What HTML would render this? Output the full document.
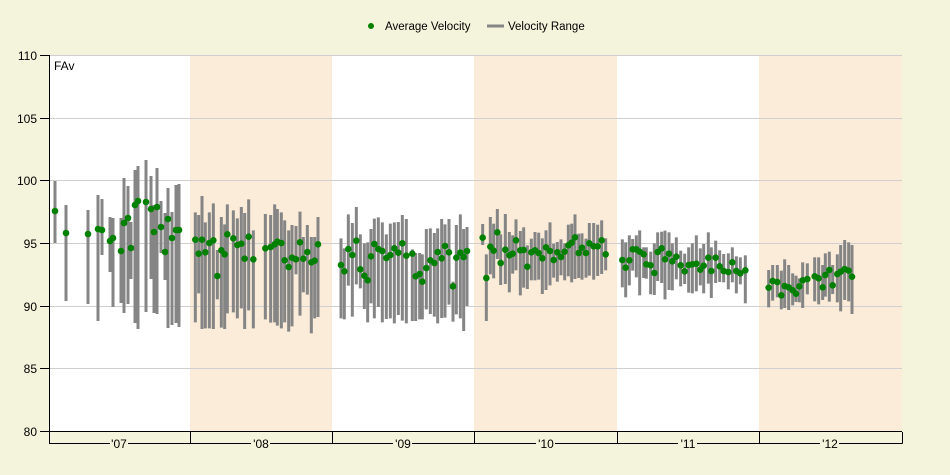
<!DOCTYPE html>
<html><head><meta charset="utf-8"><style>
body{margin:0;background:#f4f4dc;}
svg{display:block;font-family:"Liberation Sans",sans-serif;}
</style></head><body>
<svg id="s" width="950" height="475" xmlns="http://www.w3.org/2000/svg">
<rect width="950" height="475" fill="#f4f4dc"/>
<g id="bands">
<rect x="49" y="55" width="141" height="376" fill="#fff"/>
<rect x="190" y="55" width="142" height="376" fill="#faecd8"/>
<rect x="332" y="55" width="142" height="376" fill="#fff"/>
<rect x="474" y="55" width="143" height="376" fill="#faecd8"/>
<rect x="617" y="55" width="142" height="376" fill="#fff"/>
<rect x="759" y="55" width="143" height="376" fill="#faecd8"/>
</g>
<g stroke="#cfcfcf" stroke-width="1">
<line x1="49" x2="902" y1="55.5" y2="55.5"/>
<line x1="49" x2="902" y1="118.5" y2="118.5"/>
<line x1="49" x2="902" y1="180.5" y2="180.5"/>
<line x1="49" x2="902" y1="243.5" y2="243.5"/>
<line x1="49" x2="902" y1="306.5" y2="306.5"/>
<line x1="49" x2="902" y1="368.5" y2="368.5"/>
</g>
<g id="bars" stroke="#858585" stroke-width="3"></g>
<g id="dots" fill="#008000"></g>
<g stroke="#000" stroke-width="1" fill="none">
<line x1="49.5" x2="49.5" y1="55" y2="431"/>
<line x1="49" x2="902" y1="431.5" y2="431.5"/>
<line x1="40" x2="49" y1="55.5" y2="55.5"/>
<line x1="40" x2="49" y1="118.5" y2="118.5"/>
<line x1="40" x2="49" y1="180.5" y2="180.5"/>
<line x1="40" x2="49" y1="243.5" y2="243.5"/>
<line x1="40" x2="49" y1="306.5" y2="306.5"/>
<line x1="40" x2="49" y1="368.5" y2="368.5"/>
<line x1="40" x2="49" y1="431.5" y2="431.5"/>
<path d="M49.5 432V443.5H110M128 443.5H190.5M190.5 432V443.5H251M270 443.5H332.5M332.5 432V443.5H393M412 443.5H474.5M474.5 432V443.5H536M555 443.5H617.5M617.5 432V443.5H678M697 443.5H759.5M759.5 432V443.5H820M839 443.5H902.5M902.5 432V443.5"/>
</g>
<g font-size="12" fill="#000" text-anchor="end">
<text x="37" y="60">110</text><text x="37" y="123">105</text><text x="37" y="185">100</text>
<text x="37" y="248">95</text><text x="37" y="311">90</text><text x="37" y="373">85</text><text x="37" y="436">80</text>
</g>
<g font-size="12" fill="#000" text-anchor="middle">
<text x="119" y="448">'07</text><text x="261" y="448">'08</text><text x="403" y="448">'09</text>
<text x="546" y="448">'10</text><text x="688" y="448">'11</text><text x="830" y="448">'12</text>
</g>
<text x="54" y="70" font-size="12" fill="#000">FAv</text>
<circle cx="371" cy="26" r="3" fill="#008000"/>
<text x="385" y="30" font-size="11.5" fill="#000">Average Velocity</text>
<line x1="487" x2="504" y1="26" y2="26" stroke="#858585" stroke-width="3"/>
<text x="508" y="30" font-size="11.5" fill="#000">Velocity Range</text>
</svg>
<script>
var segs=[
[0,0,[[55,181,243,211],[66,205,301,233],[88,210,304,234],[98,195,321,229],[102,199,255,230],[110,217,272,241],[113,218,307,238],[121,218,303,251],[124,178,313,223],[128,186,304,218],[131,222,279,248],[135,170,323,205],[138,166,329,201],[146,160,312,202],[151,176,279,209],[154,205,313,232],[157,168,314,207],[161,201,253,227],[165,213,280,252],[168,188,328,219],[172,212,325,238],[176,185,323,230],[179,184,327,230]],1],
[185,180,[[31,97,427,179],[41,105,340,221],[51,48,447,179],[61,127,445,217],[73,97,445,189],[85,70,447,181],[97,210,358,288],[109,111,443,211],[119,133,447,223],[127,73,400,163],[145,91,397,175],[157,115,415,195],[169,81,385,191],[179,99,447,236],[191,58,391,170],[205,151,445,238],[241,102,418,205],[257,105,428,201],[269,73,427,193],[277,87,437,185],[289,97,445,189],[299,121,427,241],[311,151,455,261],[321,135,439,233],[333,138,283,238],[345,95,407,187],[355,171,337,236],[367,135,344,216],[379,171,460,247],[389,171,415,242],[399,111,411,193]],3],
[330,190,[[33,145,385,225],[43,175,388,244],[55,73,287,177],[67,99,380,195],[79,51,283,152],[91,133,295,238],[103,160,357,257],[113,157,397,271],[123,117,340,199],[133,86,385,162],[145,82,351,177],[157,97,397,183],[169,133,387,204],[181,101,385,195],[193,97,400,175],[205,96,375,188],[217,75,392,160],[229,87,400,197],[247,178,393,191],[257,189,393,259],[269,189,388,252],[277,193,388,275],[289,117,358,234],[301,115,372,211],[313,129,380,219],[323,115,400,186],[335,87,384,205],[345,103,383,168],[357,87,344,187],[369,275,395,289],[379,105,373,203],[391,73,385,188],[401,117,423,201],[411,111,348,183]],3],
[474,190,[[26,102,165,143],[37,193,393,264],[49,81,253,170],[59,101,265,182],[70,57,207,127],[80,133,285,219],[94,72,282,179],[106,126,307,196],[116,136,251,191],[126,88,241,151],[139,123,316,181],[149,112,293,180],[160,166,297,230],[172,146,271,187],[183,126,271,181],[194,128,269,189],[205,145,312,205],[216,121,300,172],[228,97,286,183],[239,161,263,210],[250,156,275,187],[261,148,256,201],[272,160,271,185],[283,104,259,166],[293,101,277,158],[303,73,267,142],[314,131,264,189],[324,130,269,173],[336,146,263,189],[346,99,257,160],[359,99,269,169],[371,104,258,169],[383,91,252,151],[395,145,241,193]],3],
[615,220,[[22,58,202,120],[32,67,232,143],[43,46,196,121],[53,57,152,88],[64,46,172,88],[74,31,226,95],[86,82,174,103],[94,82,176,133],[107,95,223,136],[118,70,225,159],[128,37,183,96],[140,35,189,85],[150,32,238,118],[162,37,210,101],[172,70,211,124],[184,52,178,110],[197,92,199,136],[209,101,192,154],[221,82,218,135],[232,70,220,133],[244,46,214,131],[256,85,196,149],[266,72,220,137],[280,37,191,113],[289,82,234,153],[302,62,189,113],[314,91,186,139],[326,102,187,153],[340,100,208,156],[352,82,187,127],[364,109,220,153],[376,112,193,160],[391,106,250,151]],3],
[755,230,[[41,120,232,173],[53,105,212,153],[67,105,202,156],[79,122,238,196],[89,88,234,168],[101,105,240,172],[113,130,226,181],[123,137,216,191],[133,145,217,169],[143,97,234,151],[157,100,193,147],[179,82,214,139],[191,82,223,145],[203,105,210,172],[211,70,200,135],[223,65,215,120],[233,105,192,166],[247,73,217,132],[257,45,244,125],[269,30,210,117],[281,37,214,122],[291,45,252,140]],3]
];
var ns="http://www.w3.org/2000/svg",B=document.getElementById("bars"),D=document.getElementById("dots");
segs.forEach(function(s){var x0=s[0],y0=s[1],k=s[3];s[2].forEach(function(p){
var x=x0+p[0]/k,t=y0+p[1]/k,b=y0+p[2]/k,d=y0+p[3]/k;
var l=document.createElementNS(ns,"line");l.setAttribute("x1",x);l.setAttribute("x2",x);l.setAttribute("y1",t);l.setAttribute("y2",b);B.appendChild(l);
var c=document.createElementNS(ns,"circle");c.setAttribute("cx",x);c.setAttribute("cy",d);c.setAttribute("r",3.3);D.appendChild(c);});});
</script>
</body></html>
